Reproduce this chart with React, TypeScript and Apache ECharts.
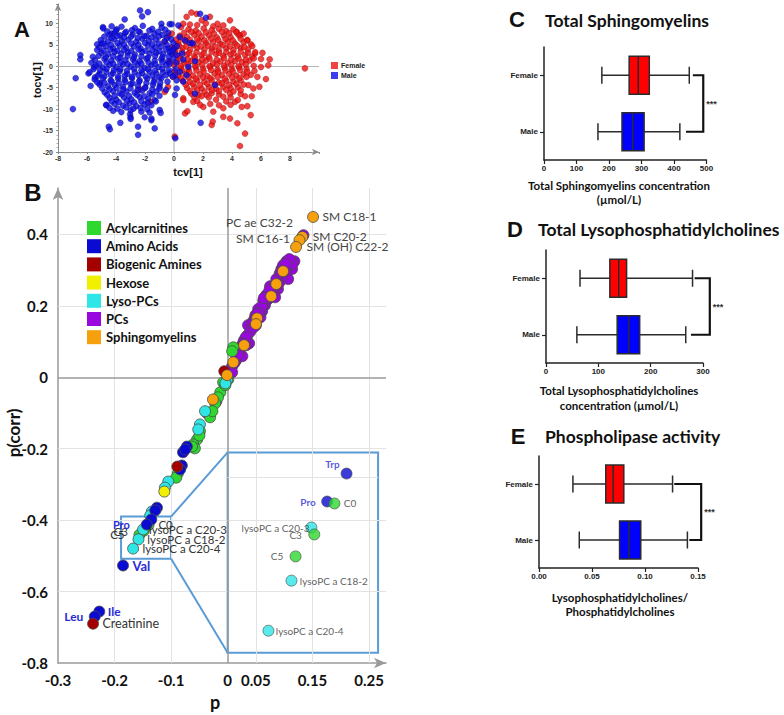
import React, { useEffect, useRef } from 'react';
import * as echarts from 'echarts';

// ---------------- Panel A : score plot (tcv[1] vs tocv[1]) ----------------
const maleScores: number[][] = [
  [-6.97, -10], [-6.78, -2.8], [-6.46, 2.6], [-6.46, 1.6], [-5.9, -1.7], [-5.75, -4.6], [-5.45, -2.6], [-5.5, -0.2],
  [-5.1, -3.9], [-5.0, 5.3], [-4.9, 9.1], [-4.67, -9.1], [-4.5, -14.1], [-4.42, -14.7], [-4.3, 7.6], [-3.7, -13.2],
  [-3.4, 10.9], [-3.03, -11.2], [-3.0, -11.9], [-2.48, -14.1], [-2.48, -16], [-2.34, 13.0], [-2.2, 11.6], [-1.8, 12.6],
  [-1.56, -12.6], [-1.33, -14.5], [-0.99, -10.2], [-0.87, 9.9], [-0.3, 9.8], [0.09, -16.8], [0.39, 6.8], [0.57, 2.95],
  [-0.16, 9.8], [0.3, 9.5], [1.8, 12.2], [2.2, 11.3], [0.76, 6], [1.1, 5.4], [1.29, 5.3], [0, 4.1], [-0.16, 2.9],
  [0.18, 2.6], [0.64, 1.55], [1.45, 1.16], [0.99, -0.15], [0.41, -1.3], [0.07, -2.1], [0.87, -2.1], [0.18, -3.3],
  [0.64, -3.6], [0.18, -5.2], [0.07, -6.7], [1.45, -6.4], [1.84, -13.2], [2.83, -4.4],
  [-4.88, 8.8], [-4.3, 9.3], [-3.95, 8.6], [-3.62, 9.2], [-2.7, 8.9], [-2.15, 9.4], [-1.5, 8.7], [-0.85, 9.0],
  [-4.45, 7.3], [-4.08, 7.8], [-3.72, 7.2], [-3.38, 7.7], [-2.85, 7.4], [-2.35, 7.9], [-1.9, 7.1], [-1.35, 7.6], [-0.8, 7.3], [-0.4, 7.8],
  [-5.05, 6.1], [-4.55, 5.8], [-4.15, 6.3], [-3.6, 5.9], [-3.15, 6.2], [-2.6, 5.7], [-2.2, 6.4], [-1.75, 5.9], [-1.25, 6.2], [-0.65, 5.8], [-0.2, 6.3],
  [-5.15, 4.4], [-4.7, 4.7], [-4.2, 4.2], [-3.75, 4.8], [-3.3, 4.3], [-2.78, 4.6], [-2.3, 4.1], [-1.8, 4.8], [-1.3, 4.4], [-0.9, 4.6], [-0.35, 4.2], [0.2, 4.7],
  [-5.0, 3.1], [-4.55, 2.8], [-4.1, 3.3], [-3.65, 2.9], [-3.18, 3.2], [-2.7, 2.7], [-2.2, 3.3], [-1.68, 2.9], [-1.22, 3.1], [-0.75, 2.8], [-0.3, 3.3],
  [-5.45, 1.4], [-4.8, 1.7], [-4.32, 1.3], [-3.86, 1.8], [-3.35, 1.4], [-2.83, 1.6], [-2.37, 1.2], [-1.9, 1.7], [-1.33, 1.3], [-0.87, 1.6], [-0.41, 1.2], [-0.05, 1.8],
  [-5.35, 0.1], [-4.9, -0.3], [-4.44, 0.3], [-3.98, -0.2], [-3.52, 0.4], [-2.99, -0.1], [-2.48, 0.3], [-2.02, -0.4], [-1.56, 0.2], [-1.06, -0.2], [-0.53, 0.3],
  [-5.82, -1.4], [-5.13, -1.7], [-4.67, -1.3], [-4.2, -1.6], [-3.75, -1.2], [-3.22, -1.8], [-2.71, -1.4], [-2.2, -1.6], [-1.68, -1.3], [-1.22, -1.7], [-0.76, -1.4], [-0.3, -1.6],
  [-5.47, -3.1], [-4.9, -2.8], [-4.37, -3.3], [-3.86, -2.9], [-3.4, -3.2], [-2.9, -2.8], [-2.37, -3.3], [-1.84, -2.9], [-1.33, -3.1], [-0.87, -2.8],
  [-5.13, -4.3], [-4.55, -4.7], [-4.09, -4.4], [-3.52, -4.8], [-2.99, -4.2], [-2.48, -4.6], [-1.98, -4.9], [-1.45, -4.3], [-0.99, -4.7],
  [-4.78, -6.1], [-4.2, -5.8], [-3.75, -6.3], [-3.29, -5.9], [-2.71, -6.2], [-2.2, -5.7], [-1.68, -6.3], [-1.22, -5.9],
  [-4.44, -7.4], [-3.98, -7.8], [-3.45, -7.3], [-2.94, -7.7], [-2.37, -7.2], [-1.79, -7.6], [-1.33, -7.9],
  [-4.67, -9.0], [-4.09, -8.8], [-3.52, -9.2], [-3.06, -8.7], [-2.6, -9.3], [-2.02, -8.9], [-1.56, -9.1],
  [-4.2, -10.4], [-3.63, -10.7], [-2.99, -10.3], [-2.25, -10.6], [-1.68, -10.8], [-0.92, -10.9],
  [-2.99, -12.3], [-2.02, -11.9], [-1.56, -12.2],
  [-4.6, 8.1], [-4.0, 8.3], [-3.3, 8.0], [-2.9, 8.4], [-2.45, 8.1], [-1.7, 8.3], [-1.1, 8.0], [-0.6, 8.5],
  [-4.8, 6.9], [-4.3, 6.6], [-3.9, 7.0], [-3.45, 6.7], [-2.95, 6.9], [-2.5, 6.6], [-2.05, 7.0], [-1.55, 6.7], [-1.05, 6.9], [-0.5, 6.6],
  [-5.3, 5.1], [-4.85, 5.3], [-4.35, 5.0], [-3.9, 5.4], [-3.45, 5.1], [-2.95, 5.3], [-2.45, 5.0], [-2.0, 5.4], [-1.5, 5.1], [-1.05, 5.3], [-0.5, 5.0], [-0.05, 5.4],
  [-5.3, 3.8], [-4.85, 3.6], [-4.4, 3.9], [-3.9, 3.6], [-3.45, 3.8], [-2.95, 3.5], [-2.45, 3.9], [-1.95, 3.6], [-1.5, 3.8], [-1.0, 3.5], [-0.55, 3.9], [-0.1, 3.6],
  [-5.6, 2.2], [-5.2, 2.4], [-4.7, 2.1], [-4.2, 2.3], [-3.7, 2.0], [-3.2, 2.4], [-2.75, 2.1], [-2.25, 2.3], [-1.8, 2.0], [-1.3, 2.4], [-0.8, 2.1], [-0.35, 2.3],
  [-5.7, 0.8], [-5.15, 0.6], [-4.65, 0.9], [-4.2, 0.6], [-3.7, 0.8], [-3.2, 0.5], [-2.7, 0.9], [-2.25, 0.6], [-1.75, 0.8], [-1.3, 0.5], [-0.8, 0.9], [-0.3, 0.6], [0.15, 0.8],
  [-5.55, -0.7], [-5.1, -0.9], [-4.65, -0.6], [-4.15, -0.9], [-3.7, -0.7], [-3.25, -1.0], [-2.75, -0.6], [-2.25, -0.9], [-1.8, -0.7], [-1.3, -1.0], [-0.8, -0.6], [-0.35, -0.9], [0.1, -0.7],
  [-5.25, -2.2], [-4.8, -2.4], [-4.35, -2.1], [-3.85, -2.4], [-3.4, -2.2], [-2.9, -2.5], [-2.45, -2.1], [-1.95, -2.4], [-1.5, -2.2], [-1.0, -2.5], [-0.55, -2.1], [-0.1, -2.4],
  [-5.3, -3.7], [-4.8, -3.9], [-4.3, -3.6], [-3.8, -3.9], [-3.35, -3.7], [-2.85, -4.0], [-2.4, -3.6], [-1.9, -3.9], [-1.4, -3.7], [-0.95, -3.9], [-0.45, -3.6],
  [-4.95, -5.2], [-4.45, -5.4], [-3.95, -5.1], [-3.5, -5.4], [-3.0, -5.2], [-2.5, -5.5], [-2.0, -5.1], [-1.5, -5.4], [-1.0, -5.2], [-0.55, -5.5],
  [-4.6, -6.7], [-4.1, -6.9], [-3.6, -6.6], [-3.1, -6.9], [-2.55, -6.7], [-2.05, -7.0], [-1.5, -6.6], [-1.0, -6.9],
  [-4.3, -8.2], [-3.8, -8.4], [-3.25, -8.1], [-2.75, -8.4], [-2.25, -8.2], [-1.8, -8.5], [-1.25, -8.2],
  [-4.45, -9.7], [-3.9, -9.9], [-3.3, -9.6], [-2.8, -9.9], [-2.3, -9.7], [-1.85, -10.0],
];

const femaleScores: number[][] = [
  [9.03, -0.5], [4.55, -18.6], [4.9, -15.7], [4.37, -13.3], [2.6, -13.7], [2.67, -12.9], [0.76, -11], [0.92, -10.5],
  [0.64, -7.5], [3.4, -11.8], [3.86, -12.2], [5.29, -11.4], [5.06, -9.3], [5.36, -7], [5.89, -4.8], [6.34, -3.0],
  [6.5, 0.2], [6.6, 1.6], [6.1, 3.1], [5.06, 6.05], [4.55, 7.2], [3.86, 10.7], [2.48, 11.5], [1.56, 12.2], [0.87, 11.5],
  [0.48, 9.1], [-0.16, 7.6], [0.64, 9.9], [1.91, 10.7], [3.4, 9.5], [2.71, 9.3], [4.32, 8.0], [5.59, 2.95], [5.75, -2.5],
  [5.47, -5.2], [4.67, -9.5], [4.2, -8.3], [3.4, -9.8], [2.71, -10.6], [2.02, -9.5], [1.33, -8.3], [0.64, -7.9],
  [2.25, -6.7], [3.86, -6.4], [5.13, -4.4], [-2.37, -5.4], [-1.61, -8.3], [0.05, -16.4], [-0.64, 5.7], [-0.41, 7.0],
  [-0.14, 4.4], [-0.3, 1.0], [-0.07, -2.5], [-0.41, -4.8], [-0.64, -6.0], [1.2, 12.5],
  [1.0, 8.6], [1.5, 8.3], [2.05, 8.8], [2.6, 8.4], [3.1, 8.7], [3.6, 8.2], [4.1, 8.6],
  [0.4, 7.1], [0.9, 6.8], [1.4, 7.3], [1.9, 6.9], [2.4, 7.2], [2.95, 6.7], [3.45, 7.1], [3.9, 6.8], [4.45, 7.3],
  [0.3, 5.4], [0.8, 5.7], [1.25, 5.3], [1.7, 5.8], [2.2, 5.4], [2.7, 5.6], [3.2, 5.2], [3.7, 5.7], [4.2, 5.3], [4.8, 5.6], [5.3, 5.1],
  [0.1, 3.9], [0.6, 4.2], [1.1, 3.8], [1.6, 4.3], [2.1, 3.9], [2.6, 4.1], [3.1, 3.7], [3.6, 4.2], [4.1, 3.8], [4.6, 4.3], [5.1, 3.9],
  [0.3, 2.4], [0.9, 2.7], [1.4, 2.3], [1.9, 2.6], [2.4, 2.2], [2.9, 2.8], [3.4, 2.4], [3.9, 2.7], [4.4, 2.3], [4.9, 2.6], [5.4, 2.2],
  [0.2, 1.1], [0.7, 0.8], [1.2, 1.2], [1.7, 0.9], [2.2, 1.3], [2.7, 0.7], [3.2, 1.1], [3.7, 0.8], [4.2, 1.2], [4.7, 0.9], [5.2, 1.3],
  [0.5, -0.4], [1.0, -0.7], [1.5, -0.3], [2.0, -0.6], [2.5, -0.2], [3.0, -0.8], [3.5, -0.4], [4.0, -0.7], [4.5, -0.3], [5.0, -0.6],
  [0.3, -2.1], [0.8, -1.8], [1.3, -2.2], [1.8, -1.9], [2.3, -2.3], [2.8, -1.7], [3.3, -2.1], [3.8, -1.8], [4.3, -2.2], [4.8, -1.9], [5.3, -2.0],
  [0.6, -3.4], [1.1, -3.7], [1.6, -3.3], [2.1, -3.6], [2.6, -3.2], [3.1, -3.8], [3.6, -3.4], [4.1, -3.6], [4.6, -3.3],
  [0.9, -5.1], [1.4, -4.8], [1.9, -5.2], [2.4, -4.9], [2.9, -5.3], [3.4, -4.8], [3.9, -5.1], [4.4, -4.9],
  [1.2, -6.4], [1.7, -6.7], [2.6, -6.3], [3.1, -6.6], [4.6, -6.5],
  [1.6, -8.1], [2.9, -7.8], [3.6, -8.2], [4.4, -7.9],
  [1.1, 9.7], [2.2, 10.0], [3.0, 9.9], [1.6, 9.6],
  [0.7, 7.8], [1.2, 8.0], [1.7, 7.7], [2.2, 7.9], [2.75, 7.6], [3.3, 8.0], [3.8, 7.7], [4.3, 7.9], [4.8, 7.6],
  [0.15, 6.2], [0.6, 6.4], [1.1, 6.1], [1.6, 6.3], [2.1, 6.0], [2.55, 6.4], [3.05, 6.1], [3.55, 6.3], [4.05, 6.0], [4.6, 6.4], [5.05, 6.1],
  [0.35, 4.8], [0.85, 4.6], [1.35, 4.9], [1.85, 4.6], [2.35, 4.8], [2.85, 4.5], [3.35, 4.9], [3.85, 4.6], [4.35, 4.8], [4.85, 4.5], [5.4, 4.7],
  [0.05, 3.2], [0.55, 3.4], [1.05, 3.1], [1.55, 3.3], [2.05, 3.0], [2.6, 3.4], [3.1, 3.1], [3.6, 3.3], [4.1, 3.0], [4.6, 3.4], [5.1, 3.1], [5.6, 3.3],
  [0.45, 1.8], [0.95, 1.6], [1.45, 1.9], [1.95, 1.6], [2.45, 1.8], [2.95, 1.5], [3.45, 1.9], [3.95, 1.6], [4.45, 1.8], [4.95, 1.5], [5.5, 1.8], [6.0, 1.7],
  [0.0, 0.3], [0.45, 0.1], [0.95, 0.4], [1.45, 0.1], [1.95, 0.3], [2.45, 0.0], [2.95, 0.4], [3.45, 0.1], [3.95, 0.3], [4.45, 0.0], [4.95, 0.4], [5.5, 0.1], [6.0, -0.2],
  [0.05, -1.2], [0.55, -1.0], [1.05, -1.3], [1.55, -1.0], [2.05, -1.2], [2.55, -0.9], [3.05, -1.3], [3.55, -1.0], [4.05, -1.2], [4.55, -0.9], [5.05, -1.3], [5.55, -1.1],
  [0.5, -2.8], [1.0, -2.6], [1.5, -2.9], [2.0, -2.6], [2.5, -2.8], [3.0, -2.5], [3.5, -2.9], [4.0, -2.6], [4.5, -2.8], [5.0, -2.5],
  [0.8, -4.3], [1.3, -4.1], [1.8, -4.4], [2.3, -4.1], [2.8, -4.3], [3.3, -4.0], [3.8, -4.4], [4.3, -4.1], [4.8, -4.3],
  [1.1, -5.8], [1.6, -5.6], [2.1, -5.9], [2.6, -5.6], [3.1, -5.8], [3.6, -5.5], [4.1, -5.9], [4.6, -5.6],
  [1.4, -7.2], [1.9, -7.0], [2.4, -7.3], [3.4, -7.1], [3.9, -7.3], [4.9, -7.0],
  [1.8, -9.0], [2.5, -8.8], [3.1, -9.1], [3.9, -9.0],
];

// ---------------- Panel B : S-plot (p vs p(corr)) ----------------
const classNames = ['Acylcarnitines', 'Amino Acids', 'Biogenic Amines', 'Hexose', 'Lyso-PCs', 'PCs', 'Sphingomyelins'];
const classColors = ['#2fd82f', '#0a0ad2', '#a50000', '#f0f000', '#2fe6e6', '#9a06e0', '#f5a00c'];

const acylcarnitines: number[][] = [
  [0.010, 0.084], [0.008, 0.073], [-0.008, -0.014], [-0.013, -0.042], [-0.017, -0.056], [-0.022, -0.073],
  [-0.031, -0.112], [-0.027, -0.095], [-0.049, -0.151], [-0.054, -0.174], [-0.061, -0.188], [-0.058, -0.199],
  [-0.063, -0.194], [-0.050, -0.163], [-0.088, -0.269], [-0.091, -0.281], [-0.004, -0.022], [0.001, -0.006],
];
const aminoAcids: number[][] = [
  [-0.072, -0.194], [-0.079, -0.210], [-0.075, -0.202], [-0.081, -0.247], [-0.084, -0.258], [-0.125, -0.365], [-0.128, -0.373],
];
const biogenicAmines: number[][] = [[-0.089, -0.250], [-0.006, 0.017]];
const hexose: number[][] = [[-0.112, -0.320]];
const lysoPCs: number[][] = [
  [-0.001, -0.006], [-0.004, -0.017], [-0.040, -0.095], [-0.049, -0.132], [-0.052, -0.146], [-0.105, -0.292],
  [-0.111, -0.309], [-0.134, -0.376], [-0.137, -0.387],
];
const pcs: number[][] = [
  [0.111, 0.323], [0.104, 0.325], [0.114, 0.303], [0.100, 0.286], [0.107, 0.275], [0.093, 0.269], [0.089, 0.247],
  [0.082, 0.236], [0.072, 0.219], [0.084, 0.224], [0.066, 0.202], [0.061, 0.185], [0.054, 0.191], [0.058, 0.168],
  [0.045, 0.157], [0.042, 0.135], [0.036, 0.146], [0.035, 0.118], [0.029, 0.104], [0.038, 0.095], [0.022, 0.079],
  [0.026, 0.059], [0.015, 0.048], [0.019, 0.073], [0.008, 0.031], [0.004, 0.020], [0.075, 0.255], [0.095, 0.303],
  [0.068, 0.230], [0.049, 0.174], [0.065, 0.208], [0.050, 0.146], [0.033, 0.090], [-0.036, -0.101], [-0.020, -0.067],
  [0.008, 0.014], [0.118, 0.325], [0.098, 0.314],
  [0.108, 0.312], [0.102, 0.296], [0.096, 0.281], [0.090, 0.262], [0.080, 0.250], [0.078, 0.240], [0.070, 0.232],
  [0.063, 0.215], [0.060, 0.198], [0.056, 0.180], [0.048, 0.165], [0.044, 0.150], [0.040, 0.128], [0.032, 0.112],
  [0.027, 0.095], [0.024, 0.085], [0.018, 0.062], [0.012, 0.040], [0.086, 0.275], [0.092, 0.290], [0.074, 0.245],
  [0.064, 0.222], [0.052, 0.178], [0.046, 0.140], [0.115, 0.318], [0.109, 0.331], [0.103, 0.318], [0.094, 0.295],
];
const sphingomyelins: number[][] = [
  [0.098, 0.297], [0.086, 0.261], [0.077, 0.227], [0.052, 0.165], [0.050, 0.149], [0.029, 0.090], [0.010, 0.042],
  [-0.001, 0.006], [-0.026, -0.062],
];
const classData = [acylcarnitines, aminoAcids, biogenicAmines, hexose, lysoPCs, pcs, sphingomyelins];

// named metabolites in the main plot
const labeledNames = ['SM C18-1', 'SM C20-2', 'SM C16-1', 'SM (OH) C22-2', 'PC ae C32-2', 'Val', 'Ile', 'Leu', 'Creatinine'];
const labeledClasses = ['Sphingomyelins', 'Sphingomyelins', 'Sphingomyelins', 'Sphingomyelins', 'PCs', 'Amino Acids', 'Amino Acids', 'Amino Acids', 'Biogenic Amines'];
const labeledValues = [[0.151, 0.449], [0.132, 0.393], [0.127, 0.384], [0.121, 0.365], [0.134, 0.398], [-0.185, -0.527], [-0.227, -0.656], [-0.235, -0.670], [-0.238, -0.690]];

// metabolites shown magnified in the inset
const insetNames = ['Trp', 'Pro', 'C0', 'lysoPC a C20-3', 'C3', 'C5', 'lysoPC a C18-2', 'lysoPC a C20-4'];
const insetClasses = ['Amino Acids', 'Amino Acids', 'Acylcarnitines', 'Lyso-PCs', 'Acylcarnitines', 'Acylcarnitines', 'Lyso-PCs', 'Lyso-PCs'];
const insetValues = [[-0.135, -0.398], [-0.143, -0.4125], [-0.140, -0.4135], [-0.1495, -0.426], [-0.1483, -0.4296], [-0.156, -0.441], [-0.1577, -0.4536], [-0.1672, -0.4796]];

const bXTickValues = [-0.3, -0.2, -0.1, 0, 0.05, 0.15, 0.25];
const bYTickValues = [-0.8, -0.6, -0.4, -0.2, 0, 0.2, 0.4];
const bGridX = [-0.2, -0.1, 0.05, 0.15, 0.25];
const bGridY = [0.4, 0.2, -0.2, -0.4, -0.6];
// zoom window (small box) and the inset box, in p / p(corr) units
const zoomBox = [[-0.1885, -0.39], [-0.1, -0.508]];
const insetBox = [[0, -0.2104], [0.266, -0.771]];
const insetRangeX = [-0.184, -0.122];
const insetRangeY = [-0.491, -0.387];

// ---------------- Panels C, D, E : box plots [min, Q1, median, Q3, max] ----------------
const groupNames = ['Male', 'Female'];
const smFemale = [178, 262, 290, 324, 447];
const smMale = [166, 240, 273, 308, 418];
const lpcFemale = [65, 122, 139, 154, 280];
const lpcMale = [59, 136, 158, 179, 267];
const plaFemale = [0.032, 0.063, 0.070, 0.080, 0.126];
const plaMale = [0.038, 0.076, 0.085, 0.096, 0.140];
// significance brackets: [bracket x, female start, male start]
const smBracket = [490, 458, 437];
const lpcBracket = [313, 284, 277];
const plaBracket = [0.153, 0.1276, 0.1418];

const LATO = 'Lato';
const ARIAL = 'Liberation Sans';
const BLUE_LABEL = '#2c2cd6';

export default function App() {
  const ref = useRef<HTMLDivElement>(null);

  useEffect(() => {
    const chart = echarts.init(ref.current!, null, { renderer: 'svg' });

    // ---- B layout ----
    const BL = 58, BT = 188, BW = 328, BH = 475;
    const BXMIN = -0.3, BXMAX = 0.28, BYMIN = -0.8, BYMAX = 0.53;
    const px = (p: number) => BL + (p - BXMIN) / (BXMAX - BXMIN) * BW;
    const py = (v: number) => BT + (BYMAX - v) / (BYMAX - BYMIN) * BH;
    const insL = px(insetBox[0][0]), insR = px(insetBox[1][0]);
    const insT = py(insetBox[0][1]), insB = py(insetBox[1][1]);

    const baseLabel = { show: true, fontFamily: LATO, fontSize: 12, color: '#333' };
    const mainLabelLayout: Record<string, any> = {
      'Pro': { position: 'left', distance: 11, color: BLUE_LABEL, fontWeight: 'bold', fontSize: 11 },
      'C0': { position: 'right', distance: 4, fontSize: 11.5 },
      'C3': { position: 'left', distance: 10, fontSize: 11.5, offset: [0, 1] },
      'C5': { position: 'left', distance: 9, fontSize: 11.5 },
      'lysoPC a C20-3': { position: 'right', distance: 0, fontSize: 11.5 },
      'lysoPC a C18-2': { position: 'right', distance: 3, fontSize: 11.5 },
      'lysoPC a C20-4': { position: 'right', distance: 3.5, fontSize: 11.5 },
      'SM C18-1': { position: 'right', distance: 3.5, color: '#444' },
      'PC ae C32-2': { position: 'left', distance: 4.5, offset: [0, -13], color: '#444' },
      'SM C16-1': { position: 'left', distance: 3.5, offset: [0, -2], color: '#444' },
      'SM C20-2': { position: 'right', distance: 4.5, color: '#444' },
      'SM (OH) C22-2': { position: 'right', distance: 4.5, color: '#444' },
      'Val': { position: 'right', distance: 3.5, color: BLUE_LABEL, fontWeight: 'bold', fontSize: 13 },
      'Ile': { position: 'right', distance: 2.5, color: BLUE_LABEL, fontWeight: 'bold', fontSize: 12 },
      'Leu': { position: 'left', distance: 5.5, color: BLUE_LABEL, fontWeight: 'bold', fontSize: 12 },
      'Creatinine': { position: 'right', distance: 3.5, fontSize: 12.5 },
    };
    const insetLabelLayout: Record<string, any> = {
      'Trp': { position: 'top', distance: 0, offset: [-14, 1], color: BLUE_LABEL, fontWeight: 'bold' },
      'Pro': { position: 'left', distance: 5.5, color: BLUE_LABEL, fontWeight: 'bold' },
      'C0': { position: 'right', distance: 3.5 },
      'lysoPC a C20-3': { position: 'left', distance: -4 },
      'C3': { position: 'left', distance: 6.5, offset: [0, 1] },
      'C5': { position: 'left', distance: 6.5 },
      'lysoPC a C18-2': { position: 'right', distance: 2.5 },
      'lysoPC a C20-4': { position: 'right', distance: 1.5 },
    };

    const seriesOrder = ['PCs', 'Acylcarnitines', 'Lyso-PCs', 'Amino Acids', 'Biogenic Amines', 'Hexose', 'Sphingomyelins'];
    const bSeries = seriesOrder.map((cls) => {
      const ci = classNames.indexOf(cls);
      const data: any[] = classData[ci].map((v) => v);
      insetNames.forEach((n, i) => {
        if (insetClasses[i] !== cls) return;
        const lay = mainLabelLayout[n];
        data.push({ name: n, value: insetValues[i], label: lay ? { ...baseLabel, formatter: n, ...lay } : { show: false } });
      });
      labeledNames.forEach((n, i) => {
        if (labeledClasses[i] !== cls) return;
        data.push({ name: n, value: labeledValues[i], label: { ...baseLabel, formatter: n, ...mainLabelLayout[n] } });
      });
      const s: any = {
        name: cls, type: 'scatter', xAxisIndex: 1, yAxisIndex: 1, data, symbolSize: 11,
        itemStyle: { color: classColors[ci], borderColor: '#4a4a4a', borderWidth: 0.8, opacity: 1 },
        emphasis: { disabled: true }, z: 3,
      };
      if (cls === 'PCs') {
        s.markLine = {
          silent: true, z: 1, symbol: ['none', 'none'], label: { show: false },
          lineStyle: { type: 'solid' },
          data: [
            ...bGridX.map((v) => ({ xAxis: v, lineStyle: { color: '#e3e3e3', width: 1, type: 'solid' } })),
            ...bGridY.map((v) => ({ yAxis: v, lineStyle: { color: '#e3e3e3', width: 1, type: 'solid' } })),
            { xAxis: 0, lineStyle: { color: '#9a9a9a', width: 1.5, type: 'solid' } },
            { yAxis: 0, lineStyle: { color: '#9a9a9a', width: 1.5, type: 'solid' } },
            [{ coord: [zoomBox[1][0], zoomBox[0][1]], lineStyle: { color: '#5b9bd5', width: 2, type: 'solid' } }, { coord: [insetBox[0][0], insetBox[0][1]] }],
            [{ coord: [zoomBox[1][0], zoomBox[1][1]], lineStyle: { color: '#5b9bd5', width: 2, type: 'solid' } }, { coord: [insetBox[0][0], insetBox[1][1]] }],
          ],
        };
        s.markArea = {
          silent: true, z: 1,
          itemStyle: { color: 'rgba(0,0,0,0)', borderColor: '#5b9bd5', borderWidth: 2 },
          data: [
            [{ coord: zoomBox[0] }, { coord: zoomBox[1] }],
            [{ coord: insetBox[0] }, { coord: insetBox[1] }],
          ],
        };
      }
      return s;
    });

    const insetSeries = {
      name: 'inset', type: 'scatter', xAxisIndex: 2, yAxisIndex: 2, symbolSize: 11, z: 4,
      emphasis: { disabled: true },
      data: insetNames.map((n, i) => ({
        name: n, value: insetValues[i],
        itemStyle: { color: classColors[classNames.indexOf(insetClasses[i])], borderColor: '#4a4a4a', borderWidth: 0.8 },
        label: { show: true, fontFamily: LATO, fontSize: 10, color: '#333', formatter: n, ...insetLabelLayout[n] },
      })),
      markLine: {
        silent: true, z: 1, symbol: ['none', 'none'], label: { show: false },
        data: [{ yAxis: -0.4016, lineStyle: { color: '#e3e3e3', width: 1, type: 'solid' } }],
      },
    };

    // ---- box plots ----
    const boxRender = (params: any, api: any) => {
      const cat = api.value(0);
      const v = [1, 2, 3, 4, 5].map((d) => api.value(d));
      const y = api.coord([v[0], cat])[1];
      const xs = v.map((val) => api.coord([val, cat])[0]);
      const bh = 38, ch = 17;
      const fill = cat === 1 ? '#ff0000' : '#0000ff';
      const ls = { stroke: '#2b2b2b', lineWidth: 1.5 };
      return {
        type: 'group',
        children: [
          { type: 'line', shape: { x1: xs[0], y1: y, x2: xs[1], y2: y }, style: ls },
          { type: 'line', shape: { x1: xs[3], y1: y, x2: xs[4], y2: y }, style: ls },
          { type: 'line', shape: { x1: xs[0], y1: y - ch / 2, x2: xs[0], y2: y + ch / 2 }, style: ls },
          { type: 'line', shape: { x1: xs[4], y1: y - ch / 2, x2: xs[4], y2: y + ch / 2 }, style: ls },
          { type: 'rect', shape: { x: xs[1], y: y - bh / 2, width: xs[3] - xs[1], height: bh }, style: { fill, stroke: '#2b2b2b', lineWidth: 1.5 } },
          { type: 'line', shape: { x1: xs[2], y1: y - bh / 2, x2: xs[2], y2: y + bh / 2 }, style: ls },
        ],
      };
    };
    const bracketRender = (params: any, api: any) => {
      const bx = api.value(0), fs = api.value(2), ms = api.value(3);
      const yF = api.coord([bx, 1])[1], yM = api.coord([bx, 0])[1];
      const X = (val: number) => api.coord([val, 0])[0];
      return {
        type: 'group',
        children: [
          { type: 'polyline', shape: { points: [[X(fs), yF], [X(bx), yF], [X(bx), yM], [X(ms), yM]] }, style: { stroke: '#111', lineWidth: 2.2, fill: null } },
          { type: 'text', style: { text: '***', x: X(bx) + 3, y: (yF + yM) / 2, fill: '#333', font: 'bold 9px Liberation Sans', verticalAlign: 'middle', align: 'left' } },
        ],
      };
    };
    const boxSeries = (idx: number, female: number[], male: number[], bracket: number[]) => [
      {
        type: 'custom', xAxisIndex: idx, yAxisIndex: idx, renderItem: boxRender, clip: false,
        encode: { x: [1, 2, 3, 4, 5], y: 0 },
        data: [[1, ...female], [0, ...male]], z: 3,
      },
      {
        type: 'custom', xAxisIndex: idx, yAxisIndex: idx, renderItem: bracketRender, clip: false,
        encode: { x: 0, y: 1 },
        data: [[bracket[0], 1, bracket[1], bracket[2]]], z: 3,
      },
    ];

    const boxX = (gi: number, max: number, interval: number, fmt?: (v: number) => string) => ({
      gridIndex: gi, type: 'value', min: 0, max, interval,
      axisLine: { show: true, onZero: false, lineStyle: { color: '#222', width: 1.5 } },
      axisTick: { show: true, length: 4, lineStyle: { color: '#222', width: 1.2 } },
      axisLabel: { fontSize: 8, fontWeight: 'bold', fontFamily: ARIAL, color: '#222', margin: 4, hideOverlap: false, formatter: fmt },
      splitLine: { show: false },
    });
    const boxY = (gi: number) => ({
      gridIndex: gi, type: 'category', data: groupNames,
      axisLine: { show: true, onZero: false, lineStyle: { color: '#222', width: 1.5 } },
      axisTick: { show: true, length: 4, alignWithLabel: true, lineStyle: { color: '#222', width: 1.2 } },
      axisLabel: { fontSize: 8, fontWeight: 'bold', fontFamily: ARIAL, color: '#222', margin: 6 },
      splitLine: { show: false },
    });

    const near = (list: number[], v: number) => list.find((t) => Math.abs(t - v) < 1e-6);

    const txt = (text: string, x: number, y: number, font: string, extra: any = {}, rotation = 0) => ({
      type: 'text', x, y, rotation, silent: true,
      style: { text, font, fill: '#111', align: 'center', verticalAlign: 'middle', ...extra },
    });

    const option: any = {
      animation: false,
      backgroundColor: '#ffffff',
      textStyle: { fontFamily: ARIAL },
      grid: [
        { left: 58, top: 4, width: 261, height: 148, outerBoundsMode: 'none', containLabel: false },
        { left: BL, top: BT, width: BW, height: BH, outerBoundsMode: 'none', containLabel: false },
        { left: insL, top: insT, width: insR - insL, height: insB - insT, outerBoundsMode: 'none', containLabel: false },
        { left: 544, top: 47, width: 162.5, height: 113, outerBoundsMode: 'none', containLabel: false },
        { left: 546, top: 250, width: 157, height: 113, outerBoundsMode: 'none', containLabel: false },
        { left: 539, top: 456, width: 159, height: 112, outerBoundsMode: 'none', containLabel: false },
      ],
      xAxis: [
        {
          gridIndex: 0, type: 'value', min: -8, max: 10, interval: 2,
          axisLine: { onZero: false, lineStyle: { color: '#8a8a8a' }, symbol: ['none', 'arrow'], symbolSize: [5, 7] },
          axisTick: { show: true, length: 2, lineStyle: { color: '#8a8a8a' } },
          minorTick: { show: true, splitNumber: 4, length: 1.5, lineStyle: { color: '#aaa' } },
          axisLabel: {
            fontSize: 7, fontWeight: 'bold', color: '#333', margin: 3, hideOverlap: false,
            formatter: (v: number) => (v <= 8.001 && Math.abs(v / 2 - Math.round(v / 2)) < 1e-6 ? String(Math.round(v)) : ''),
          },
          splitLine: { show: false },
        },
        {
          gridIndex: 1, type: 'value', min: BXMIN, max: BXMAX, interval: 0.05,
          axisLine: { onZero: false, lineStyle: { color: '#9a9a9a', width: 1.5 }, symbol: ['none', 'arrow'], symbolSize: [8, 12] },
          axisTick: { show: false },
          axisLabel: {
            fontSize: 15, fontWeight: 'bold', fontFamily: LATO, color: '#111', margin: 9, hideOverlap: false,
            formatter: (v: number) => { const t = near(bXTickValues, v); return t === undefined ? '' : (t === 0 ? '0' : String(t)); },
          },
          splitLine: { show: false },
        },
        { gridIndex: 2, type: 'value', min: insetRangeX[0], max: insetRangeX[1], show: false, splitLine: { show: false } },
        boxX(3, 500, 100),
        boxX(4, 300, 100),
        boxX(5, 0.15, 0.05, (v: number) => v.toFixed(2)),
      ],
      yAxis: [
        {
          gridIndex: 0, type: 'value', min: -20, max: 14.5, interval: 5,
          axisLine: { onZero: false, lineStyle: { color: '#8a8a8a' }, symbol: ['none', 'arrow'], symbolSize: [5, 7] },
          axisTick: { show: true, length: 2, lineStyle: { color: '#8a8a8a' } },
          minorTick: { show: true, splitNumber: 5, length: 1.5, lineStyle: { color: '#aaa' } },
          axisLabel: {
            fontSize: 7, fontWeight: 'bold', color: '#333', margin: 5, hideOverlap: false,
            formatter: (v: number) => (Math.abs(v / 5 - Math.round(v / 5)) < 1e-6 ? String(Math.round(v)) : ''),
          },
          splitLine: { show: false },
        },
        {
          gridIndex: 1, type: 'value', min: BYMIN, max: BYMAX, interval: 0.2,
          axisLine: { onZero: false, lineStyle: { color: '#9a9a9a', width: 1.5 }, symbol: ['none', 'arrow'], symbolSize: [8, 12] },
          axisTick: { show: false },
          axisLabel: {
            fontSize: 15, fontWeight: 'bold', fontFamily: LATO, color: '#111', margin: 10, hideOverlap: false,
            formatter: (v: number) => { const t = near(bYTickValues, v); return t === undefined ? '' : (t === 0 ? '0' : t.toFixed(1)); },
          },
          splitLine: { show: false },
        },
        { gridIndex: 2, type: 'value', min: insetRangeY[0], max: insetRangeY[1], show: false, splitLine: { show: false } },
        boxY(3),
        boxY(4),
        boxY(5),
      ],
      legend: [
        {
          data: ['Female', 'Male'], left: 326, top: 57, orient: 'vertical', icon: 'rect',
          itemWidth: 7, itemHeight: 7, itemGap: 3, selectedMode: false,
          itemStyle: { borderWidth: 0 },
          textStyle: { fontSize: 7, fontWeight: 'bold', fontFamily: ARIAL, color: '#222', padding: [0, 0, 0, -2] },
        },
        {
          data: classNames, left: 82, top: 216, orient: 'vertical', icon: 'rect',
          itemWidth: 14, itemHeight: 14, itemGap: 4.2, selectedMode: false,
          itemStyle: { borderWidth: 0 },
          textStyle: { fontSize: 13, fontWeight: 'bold', fontFamily: LATO, color: '#111' },
        },
      ],
      series: [
        {
          name: 'Female', type: 'scatter', xAxisIndex: 0, yAxisIndex: 0, data: femaleScores, symbolSize: 6, z: 3,
          itemStyle: { color: '#ee1414', borderColor: '#7a0000', borderWidth: 0.4 },
          emphasis: { disabled: true },
          markLine: {
            silent: true, z: 1, symbol: ['none', 'none'], label: { show: false },
            data: [
              { xAxis: 0, lineStyle: { color: '#d4d4d4', width: 2, type: 'solid' } },
              { yAxis: 0, lineStyle: { color: '#b5b5b5', width: 1, type: 'solid' } },
            ],
          },
        },
        {
          name: 'Male', type: 'scatter', xAxisIndex: 0, yAxisIndex: 0, data: maleScores, symbolSize: 6, z: 3,
          itemStyle: { color: '#0c0ce6', borderColor: '#00005a', borderWidth: 0.4 },
          emphasis: { disabled: true },
        },
        ...bSeries,
        insetSeries,
        ...boxSeries(3, smFemale, smMale, smBracket),
        ...boxSeries(4, lpcFemale, lpcMale, lpcBracket),
        ...boxSeries(5, plaFemale, plaMale, plaBracket),
      ],
      graphic: [
        txt('A', 22, 29, 'bold 22px Liberation Sans'),
        txt('tocv[1]', 37, 80, 'bold 11px Liberation Sans', {}, Math.PI / 2),
        txt('tcv[1]', 188, 172, 'bold 11px Liberation Sans'),
        txt('B', 33, 192, 'bold 24px Liberation Sans'),
        txt('p(corr)', 13, 433, 'bold 17px Lato', {}, Math.PI / 2),
        txt('p', 215, 702, 'bold 18px Lato'),
        txt('C', 517, 19, 'bold 22px Liberation Sans'),
        txt('Total Sphingomyelins', 545, 20, 'bold 17.5px Lato', { align: 'left' }),
        txt('Total Sphingomyelins concentration', 619, 185, 'bold 11.5px Lato'),
        txt('(µmol/L)', 619, 199, 'bold 11.5px Lato'),
        txt('D', 515, 229, 'bold 22px Liberation Sans'),
        txt('Total Lysophosphatidylcholines', 538, 229, 'bold 17.5px Lato', { align: 'left' }),
        txt('Total Lysophosphatidylcholines', 619, 390, 'bold 11.5px Lato'),
        txt('concentration (µmol/L)', 619, 405, 'bold 11.5px Lato'),
        txt('E', 518, 436, 'bold 22px Liberation Sans'),
        txt('Phospholipase activity', 545, 436, 'bold 17.5px Lato', { align: 'left' }),
        txt('Lysophosphatidylcholines/', 620, 597, 'bold 11.5px Lato'),
        txt('Phosphatidylcholines', 620, 611, 'bold 11.5px Lato'),
      ],
    };

    chart.setOption(option);
    return () => chart.dispose();
  }, []);

  return (
    <div
      ref={ref}
      style={{ position: 'fixed', left: 0, top: 0, width: 784, height: 715, background: '#ffffff' }}
    />
  );
}
